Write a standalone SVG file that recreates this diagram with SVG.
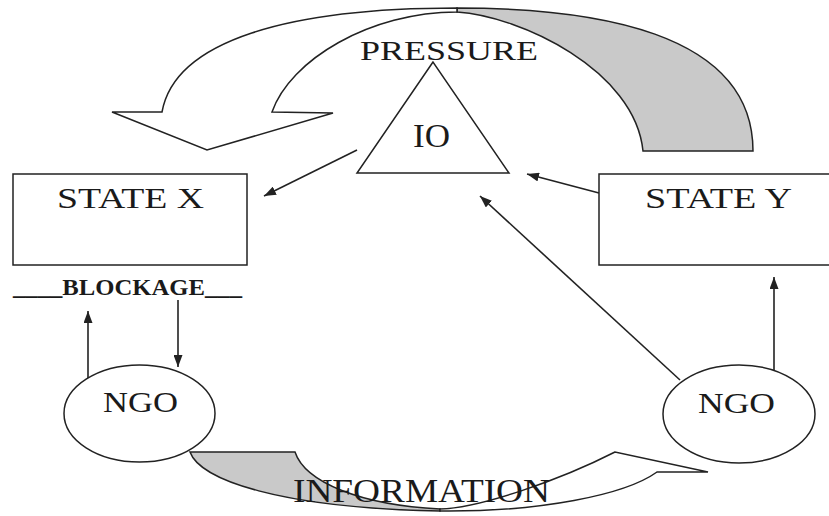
<svg xmlns="http://www.w3.org/2000/svg" width="829" height="516" viewBox="0 0 829 516">
<defs>
<style>
.shp{fill:#fff;stroke:#222;stroke-width:1.5}
.gry{fill:#c9c9c9;stroke:#222;stroke-width:1.5}
.t{font-family:"Liberation Serif","Times New Roman",serif;fill:#1a1a1a}
.ln{stroke:#222;stroke-width:1.6;fill:none;marker-end:url(#ah)}
</style>
<marker id="ah" markerUnits="userSpaceOnUse" markerWidth="12" markerHeight="9" refX="12" refY="4.5" orient="auto">
<path d="M0,0 L12,4.5 L0,9 Z" fill="#222"/>
</marker>
</defs>
<rect width="829" height="516" fill="#fff"/>

<g id="pressure-arrow">
<path class="gry" d="M457 8 C590 8 753 30 753 151 L643 151 C635 70 520 16 457 12 Z"/>
<path class="shp" d="M112 112 L162 112 C175 40 290 8 457 8 L457 12 C370 12 290 60 272 112 L333 113 L207 150 Z"/>
<text class="t" x="360" y="60" font-size="27" textLength="178" lengthAdjust="spacingAndGlyphs">PRESSURE</text>
</g>

<g id="information-arrow">
<path class="gry" d="M190 452 L295 452 C305 482 360 505 440 509 L440 511 C280 508 200 480 190 452 Z"/>
<path class="shp" d="M440 509 C480 508 560 480 615 452 L708 472 L657 472 C625 495 540 512 440 511 Z"/>
</g>

<g id="connectors">
<line class="ln" x1="357" y1="150" x2="264" y2="196"/>
<line class="ln" x1="599" y1="193" x2="527" y2="174"/>
<line class="ln" x1="680" y1="380" x2="480" y2="196"/>
<line class="ln" x1="774" y1="370" x2="774" y2="277"/>
<line class="ln" x1="88" y1="378" x2="88" y2="311"/>
<line class="ln" x1="178" y1="300" x2="178" y2="367"/>
</g>

<g id="io">
<polygon class="shp" points="433,62 357,173 509,173"/>
<text class="t" x="413" y="147" font-size="33" textLength="37" lengthAdjust="spacingAndGlyphs">IO</text>
</g>

<g id="state-x">
<rect class="shp" x="13" y="174" width="234" height="91"/>
<text class="t" x="57" y="208" font-size="30" textLength="147" lengthAdjust="spacingAndGlyphs">STATE X</text>
</g>

<g id="blockage">
<text class="t" x="13" y="295" font-size="24" font-weight="bold" textLength="229" lengthAdjust="spacingAndGlyphs">____BLOCKAGE___</text>
</g>

<g id="state-y">
<rect class="shp" x="599" y="174" width="236" height="91"/>
<text class="t" x="645" y="208" font-size="30" textLength="147" lengthAdjust="spacingAndGlyphs">STATE Y</text>
</g>

<g id="ngo-left">
<ellipse class="shp" cx="139.5" cy="413.5" rx="75.5" ry="48.5"/>
<text class="t" x="103" y="412" font-size="30" textLength="75" lengthAdjust="spacingAndGlyphs">NGO</text>
</g>

<g id="ngo-right">
<ellipse class="shp" cx="739" cy="414" rx="76" ry="49"/>
<text class="t" x="698" y="413" font-size="30" textLength="77" lengthAdjust="spacingAndGlyphs">NGO</text>
</g>

<g id="information-label">
<text class="t" x="293" y="502" font-size="33" textLength="257" lengthAdjust="spacingAndGlyphs">INFORMATION</text>
</g>
</svg>
